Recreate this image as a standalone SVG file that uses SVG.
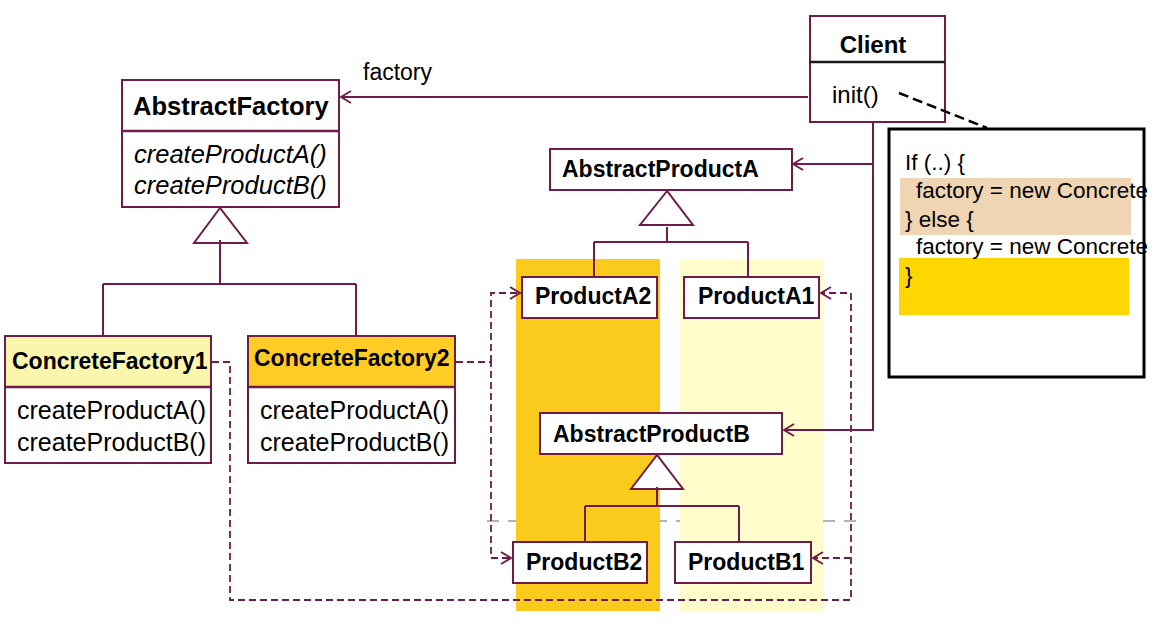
<svg xmlns="http://www.w3.org/2000/svg" width="1176" height="640" viewBox="0 0 1176 640">
<style>
.box{fill:#fff;stroke:#701C48;stroke-width:2}
.div{stroke:#701C48;stroke-width:2.5}
.ln{fill:none;stroke:#701C48;stroke-width:2}
.dash{fill:none;stroke:#701C48;stroke-width:1.8;stroke-dasharray:7 4}
.tri{fill:#fff;stroke:#701C48;stroke-width:2}
.t{font-family:"Liberation Sans",Arial,sans-serif;fill:#000}
.b{font-weight:bold;font-size:23px}
.m{font-size:25px}
.n{font-size:22.5px}
</style>
<defs>
<marker id="arr" viewBox="0 0 12 14" refX="11" refY="7" markerWidth="12" markerHeight="14" markerUnits="userSpaceOnUse" orient="auto">
<path d="M1,1 L11,7 L1,13" fill="none" stroke="#701C48" stroke-width="2"/>
</marker>
<clipPath id="clipNote"><rect x="880" y="120" width="273" height="270"/></clipPath>
</defs>
<rect width="1176" height="640" fill="#fff"/>
<g id="columns">
<line x1="487" y1="521" x2="856" y2="521" stroke="#B4B4B4" stroke-width="2" stroke-dasharray="12 9"/>
<rect x="516" y="259" width="144" height="352" fill="#FACA1C"/>
<rect x="680" y="259" width="143" height="352" fill="#FFFDCB"/>
</g>
<g id="AbstractFactory">
<rect class="box" x="122" y="80" width="217" height="127"/>
<line class="div" x1="122" y1="131" x2="339" y2="131"/>
<text class="t" x="133" y="115" font-weight="bold" font-size="25.5">AbstractFactory</text>
<text class="t" x="134" y="163" font-style="italic" font-size="25.5">createProductA()</text>
<text class="t" x="134" y="194" font-style="italic" font-size="25.5">createProductB()</text>
<polygon class="tri" points="220,208 194,243 247,243"/>
</g>
<g id="factoryLabel">
<text class="t" x="363" y="80" font-size="23">factory</text>
</g>
<g id="Client">
<rect class="box" x="810" y="16" width="135" height="106"/>
<line x1="810" y1="62" x2="945" y2="62" stroke="#1a1a1a" stroke-width="2.5"/>
<text class="t" x="873" y="53" font-weight="bold" font-size="24" text-anchor="middle">Client</text>
<text class="t" x="832" y="103" font-size="24">init()</text>
</g>
<g id="Note">
<rect x="889" y="129" width="255" height="248" fill="#fff" stroke="#000" stroke-width="3"/>
<rect x="900" y="178" width="231" height="57" fill="#F0D5B4"/>
<rect x="899" y="258" width="230" height="57" fill="#FFD700"/>
<g clip-path="url(#clipNote)">
<text class="t n" x="905" y="170">If (..) {</text>
<text class="t n" x="916" y="198">factory = new Concrete</text>
<text class="t n" x="905" y="227">} else {</text>
<text class="t n" x="916" y="254">factory = new Concrete</text>
<text class="t n" x="905" y="283">}</text>
</g>
</g>
<g id="AbstractProductA">
<rect class="box" x="550" y="149" width="242" height="41"/>
<text class="t b" x="562" y="177">AbstractProductA</text>
<polygon class="tri" points="667,191 640,225 693,225"/>
</g>
<g id="ProductA2">
<rect class="box" x="522" y="277" width="135" height="41"/>
<text class="t b" x="535" y="304">ProductA2</text>
</g>
<g id="ProductA1">
<rect class="box" x="684" y="277" width="135" height="41"/>
<text class="t b" x="698" y="304">ProductA1</text>
</g>
<g id="AbstractProductB">
<rect class="box" x="540" y="413" width="242" height="41"/>
<text class="t b" x="553" y="442">AbstractProductB</text>
<polygon class="tri" points="657,455 631,489 683,489"/>
</g>
<g id="ProductB2">
<rect class="box" x="513" y="542" width="134" height="41"/>
<text class="t b" x="526" y="570">ProductB2</text>
</g>
<g id="ProductB1">
<rect class="box" x="675" y="542" width="136" height="41"/>
<text class="t b" x="688" y="570">ProductB1</text>
</g>
<g id="ConcreteFactory1">
<rect class="box" x="5" y="336" width="206" height="127"/>
<rect x="6" y="337" width="204" height="50" fill="#FAF6AC"/>
<line class="div" x1="5" y1="387" x2="211" y2="387"/>
<text class="t b" x="12" y="369">ConcreteFactory1</text>
<text class="t m" x="17" y="419">createProductA()</text>
<text class="t m" x="17" y="451">createProductB()</text>
</g>
<g id="ConcreteFactory2">
<rect class="box" x="248" y="336" width="207" height="127"/>
<rect x="249" y="337" width="205" height="50" fill="#FFCC26"/>
<line class="div" x1="248" y1="387" x2="455" y2="387"/>
<text class="t b" x="254" y="366">ConcreteFactory2</text>
<text class="t m" x="260" y="419">createProductA()</text>
<text class="t m" x="260" y="451">createProductB()</text>
</g>
<g id="connectors">
<path class="ln" d="M808,97 H341" marker-end="url(#arr)"/>
<path class="ln" d="M873,123 V430 H784" marker-end="url(#arr)"/>
<path class="ln" d="M873,164 H793" marker-end="url(#arr)"/>
<path class="ln" d="M220,240 V284 M103,284 H356 M103,284 V335 M356,284 V335"/>
<path class="ln" d="M667,227 V242 M594,242 H748 M594,242 V276 M748,242 V276"/>
<path class="ln" d="M657,487 V506 M585,506 H739 M585,506 V541 M739,506 V541"/>
<path class="dash" d="M212,362 H230 V600 H851 V293 H821" marker-end="url(#arr)"/>
<path class="dash" d="M851,558 H813" marker-end="url(#arr)"/>
<path class="dash" d="M456,362 H491 V558 H511" marker-end="url(#arr)"/>
<path class="dash" d="M491,362 V293 H520" marker-end="url(#arr)"/>
<path d="M899,93 L987,128" fill="none" stroke="#000" stroke-width="2.5" stroke-dasharray="10 5"/>
</g>
</svg>
